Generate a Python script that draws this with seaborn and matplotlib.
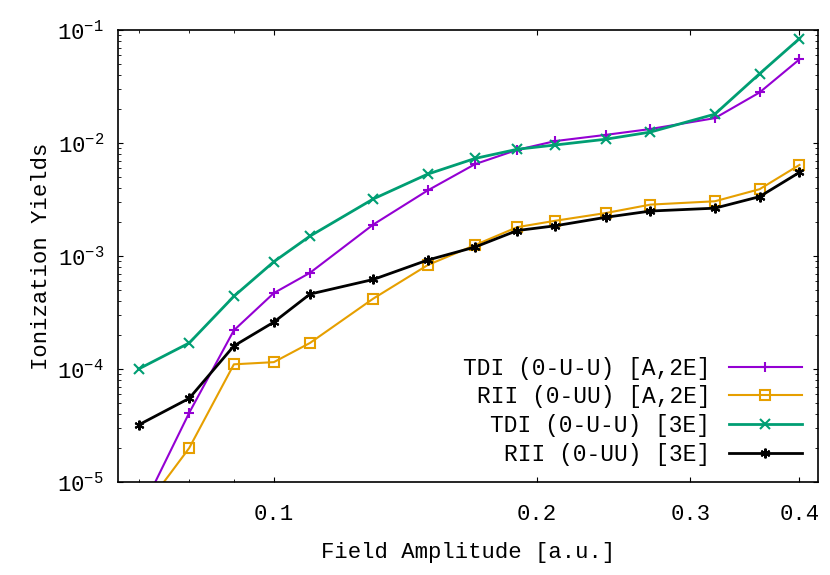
import numpy as np
import pandas as pd
import matplotlib
matplotlib.use("Agg")
import matplotlib.pyplot as plt
import seaborn as sns

field = [0.07, 0.08, 0.09, 0.10, 0.11, 0.13, 0.15, 0.17, 0.19, 0.21, 0.24, 0.27, 0.32, 0.36, 0.40]
tdi_a2e = [5e-6, 4.1e-5, 2.2e-4, 4.7e-4, 7.1e-4, 1.9e-3, 3.8e-3, 6.5e-3, 8.7e-3, 1.04e-2, 1.18e-2, 1.33e-2, 1.66e-2, 2.8e-2, 5.5e-2]
rii_a2e = [5e-6, 2.0e-5, 1.1e-4, 1.15e-4, 1.7e-4, 4.2e-4, 8.3e-4, 1.25e-3, 1.8e-3, 2.05e-3, 2.4e-3, 2.85e-3, 3.05e-3, 3.9e-3, 6.4e-3]
tdi_3e = [1.0e-4, 1.7e-4, 4.4e-4, 8.9e-4, 1.5e-3, 3.2e-3, 5.3e-3, 7.3e-3, 8.8e-3, 9.6e-3, 1.08e-2, 1.25e-2, 1.8e-2, 4.1e-2, 8.4e-2]
rii_3e = [3.2e-5, 5.5e-5, 1.6e-4, 2.6e-4, 4.6e-4, 6.2e-4, 9.2e-4, 1.2e-3, 1.68e-3, 1.85e-3, 2.2e-3, 2.5e-3, 2.65e-3, 3.35e-3, 5.5e-3]

labels = ["TDI (0-U-U) [A,2E]", "RII (0-UU) [A,2E]", "TDI (0-U-U) [3E]", "RII (0-UU) [3E]"]
colors = ["#9400d3", "#e69f00", "#009e73", "#000000"]
markers = ["+", "s", "x", (6, 2, 0)]

df = pd.concat([pd.DataFrame({"field": field, "y": v, "serie": l})
                for v, l in zip([tdi_a2e, rii_a2e, tdi_3e, rii_3e], labels)])

plt.rcParams["font.family"] = "Liberation Mono"
fig = plt.figure(figsize=(8.3, 5.75), dpi=100)
ax = fig.add_axes([118/830, 93/575, 700/830, 452/575])

for l, c, m in zip(labels, colors, markers):
    d = df[df["serie"] == l]
    mfc = "none" if m == "s" else c
    sns.lineplot(data=d, x="field", y="y", ax=ax, color=c, marker=m, markersize=7,
                 markerfacecolor=mfc, markeredgecolor=c, markeredgewidth=1.5,
                 linewidth=2 if l.endswith("[3E]") else 1.5, label=l)

ax.set_xscale("log")
ax.set_yscale("log")
ax.set_xlim(0.0663, 0.42)
ax.set_ylim(1e-5, 1e-1)
ax.set_xticks([0.1, 0.2, 0.3, 0.4])
ax.set_xticklabels(["0.1", "0.2", "0.3", "0.4"])
ax.set_xticks([0.07, 0.08, 0.09], minor=True)
ax.xaxis.set_minor_formatter(matplotlib.ticker.NullFormatter())
ax.tick_params(axis="both", which="both", direction="in", top=True, right=True, labelsize=16, pad=10)
ax.tick_params(axis="x", pad=16)
ax.set_xlabel("Field Amplitude [a.u.]", fontsize=16, labelpad=12)
ax.set_ylabel("Ionization Yields", fontsize=16, labelpad=4)
for s in ax.spines.values():
    s.set_linewidth(1.2)
ax.legend(loc="lower right", frameon=False, markerfirst=False, fontsize=16.5,
          handlelength=3.2, labelspacing=0.25, borderaxespad=0.3)

fig.savefig("out.png", dpi=100)
